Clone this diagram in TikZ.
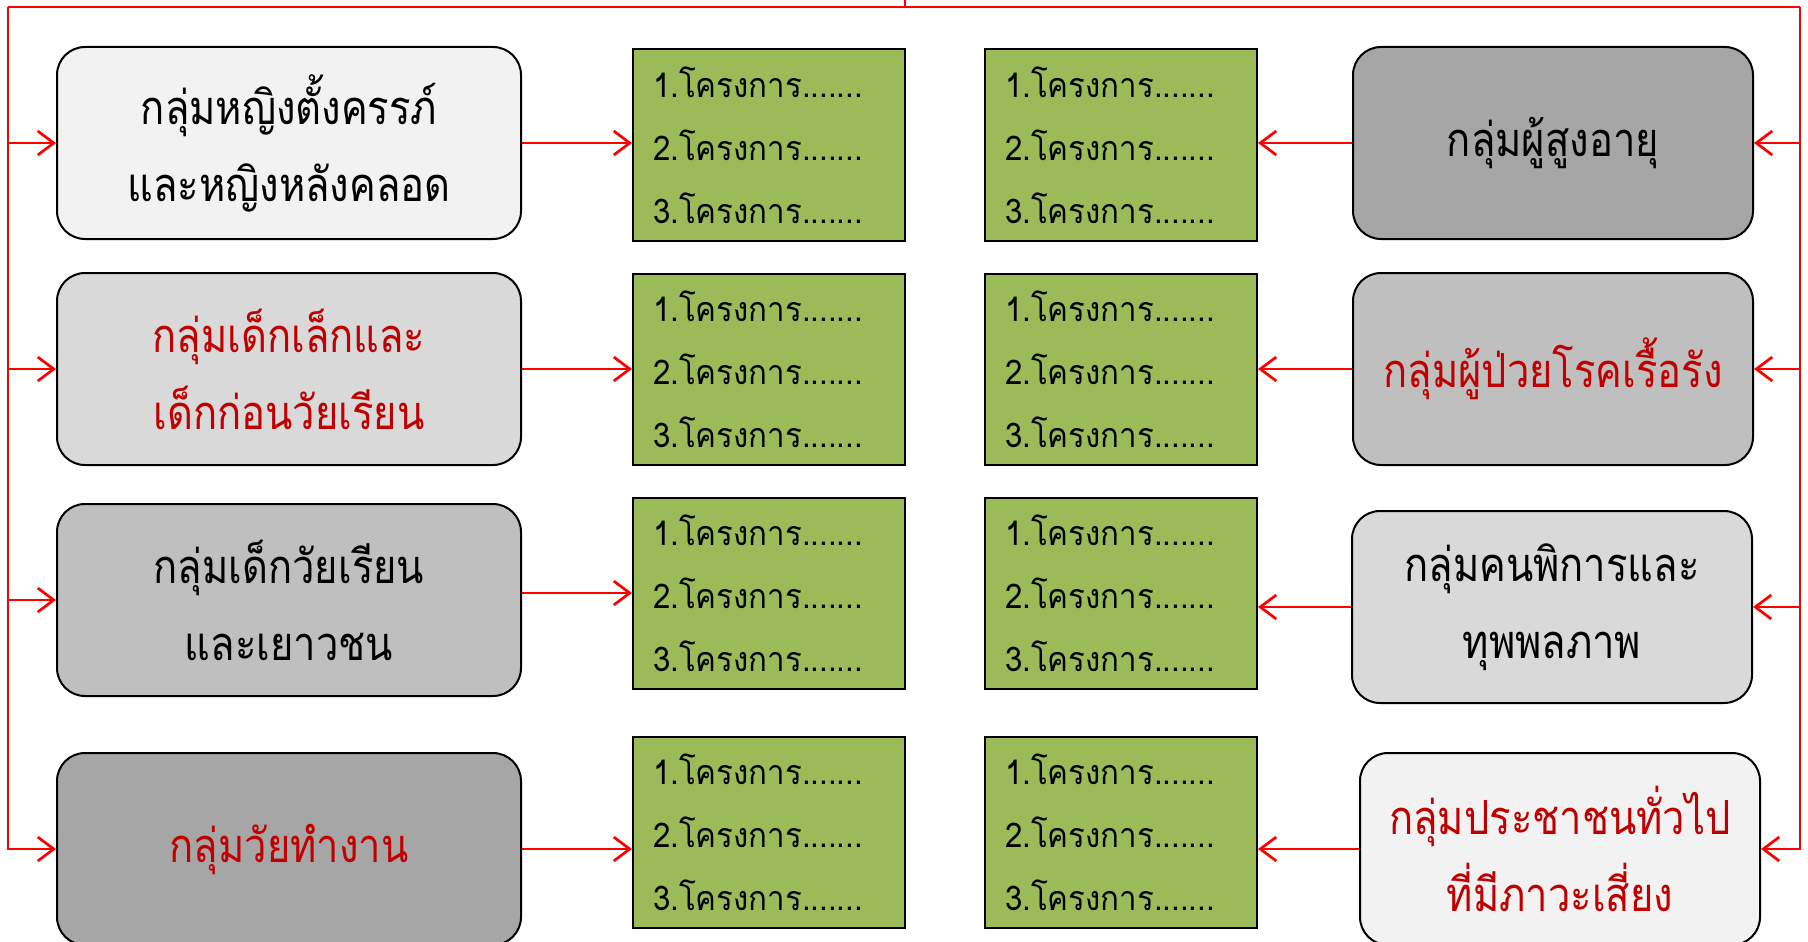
\documentclass[tikz,border=0pt]{standalone}
\usepackage{fontspec}
\newfontfamily\thai[Script=Thai,FakeStretch=0.85]{Loma}
\newfontfamily\thaiplan[Script=Thai,FakeStretch=0.92]{Loma}
\usetikzlibrary{arrows.meta}
\definecolor{linered}{HTML}{FF0000}
\definecolor{textred}{HTML}{C00000}
\definecolor{progreen}{HTML}{9BBB59}
\definecolor{grayA}{HTML}{F2F2F2}
\definecolor{grayB}{HTML}{D9D9D9}
\definecolor{grayC}{HTML}{BFBFBF}
\definecolor{grayD}{HTML}{A6A6A6}
\newcommand{\plans}{1.โครงการ.......\\2.โครงการ.......\\3.โครงการ.......}
\begin{document}
\begin{tikzpicture}[x=1pt,y=-1pt,
  group/.style={draw=black, line width=2pt, rounded corners=28pt,
    minimum width=400pt, minimum height=192pt, inner sep=0pt, align=center,
    font=\thai\fontsize{47}{77}\selectfont},
  plan/.style={draw=black, line width=2pt, fill=progreen,
    minimum width=272pt, minimum height=191pt, inner sep=0pt,
    text width=232pt, align=left, font=\thaiplan\fontsize{34}{63}\selectfont},
  wire/.style={draw=linered, line width=2.7pt},
  flow/.style={wire, -{Straight Barb[length=16pt,width=24pt,line width=2.7pt]}}]
\useasboundingbox (0,0) rectangle (1808,942);
\fill[white] (0,0) rectangle (1808,942);

% target groups, left column
\node[group, minimum width=464pt, fill=grayA] (lb1) at (289,143)
  {กลุ่มหญิงตั้งครรภ์\\และหญิงหลังคลอด};
\node[group, minimum width=464pt, fill=grayB, text=textred] (lb2) at (289,369)
  {กลุ่มเด็กเล็กและ\\เด็กก่อนวัยเรียน};
\node[group, minimum width=464pt, fill=grayC] (lb3) at (289,600)
  {กลุ่มเด็กวัยเรียน\\และเยาวชน};
\node[group, minimum width=464pt, fill=grayD, text=textred] (lb4) at (289,849)
  {กลุ่มวัยทำงาน};

% target groups, right column
\node[group, fill=grayD] (rb1) at (1553,143) {กลุ่มผู้สูงอายุ};
\node[group, fill=grayC, text=textred] (rb2) at (1553,369) {กลุ่มผู้ป่วยโรคเรื้อรัง};
\node[group, fill=grayB] (rb3) at (1552,607) {กลุ่มคนพิการและ\\ทุพพลภาพ};
\node[group, fill=grayA, text=textred] (rb4) at (1560,849)
  {กลุ่มประชาชนทั่วไป\\ที่มีภาวะเสี่ยง};

% project lists
\node[plan] (g11) at (769,145) {\plans};
\node[plan] (g12) at (769,369) {\plans};
\node[plan] (g13) at (769,593) {\plans};
\node[plan] (g14) at (769,832) {\plans};
\node[plan] (g21) at (1121,145) {\plans};
\node[plan] (g22) at (1121,369) {\plans};
\node[plan] (g23) at (1121,593) {\plans};
\node[plan] (g24) at (1121,832) {\plans};

% frame of red lines
\coordinate (topL) at (8,7);
\coordinate (topR) at (1800,7);
\coordinate (topM) at (905,7);
\coordinate (feed) at (905,-10);
\draw[wire] (feed) -- (topM);
\draw[wire] (topL) -- (topR);
\draw[flow] (topL) -- (topL |- lb4.west) -- (lb4.west);
\draw[flow] (topL |- lb1.west) -- (lb1.west);
\draw[flow] (topL |- lb2.west) -- (lb2.west);
\draw[flow] (topL |- lb3.west) -- (lb3.west);
\draw[flow] (topR) -- (topR |- rb4.east) -- (rb4.east);
\draw[flow] (topR |- rb1.east) -- (rb1.east);
\draw[flow] (topR |- rb2.east) -- (rb2.east);
\draw[flow] (topR |- rb3.east) -- (rb3.east);

% groups to project lists
\draw[flow] (lb1.east) -- (lb1.east -| g11.west);
\draw[flow] (lb2.east) -- (lb2.east -| g12.west);
\draw[flow] (lb3.east |- g13.west) -- (g13.west);
\draw[flow] (lb4.east) -- (lb4.east -| g14.west);
\draw[flow] (rb1.west) -- (rb1.west -| g21.east);
\draw[flow] (rb2.west) -- (rb2.west -| g22.east);
\draw[flow] (rb3.west) -- (rb3.west -| g23.east);
\draw[flow] (rb4.west) -- (rb4.west -| g24.east);
\end{tikzpicture}
\end{document}
